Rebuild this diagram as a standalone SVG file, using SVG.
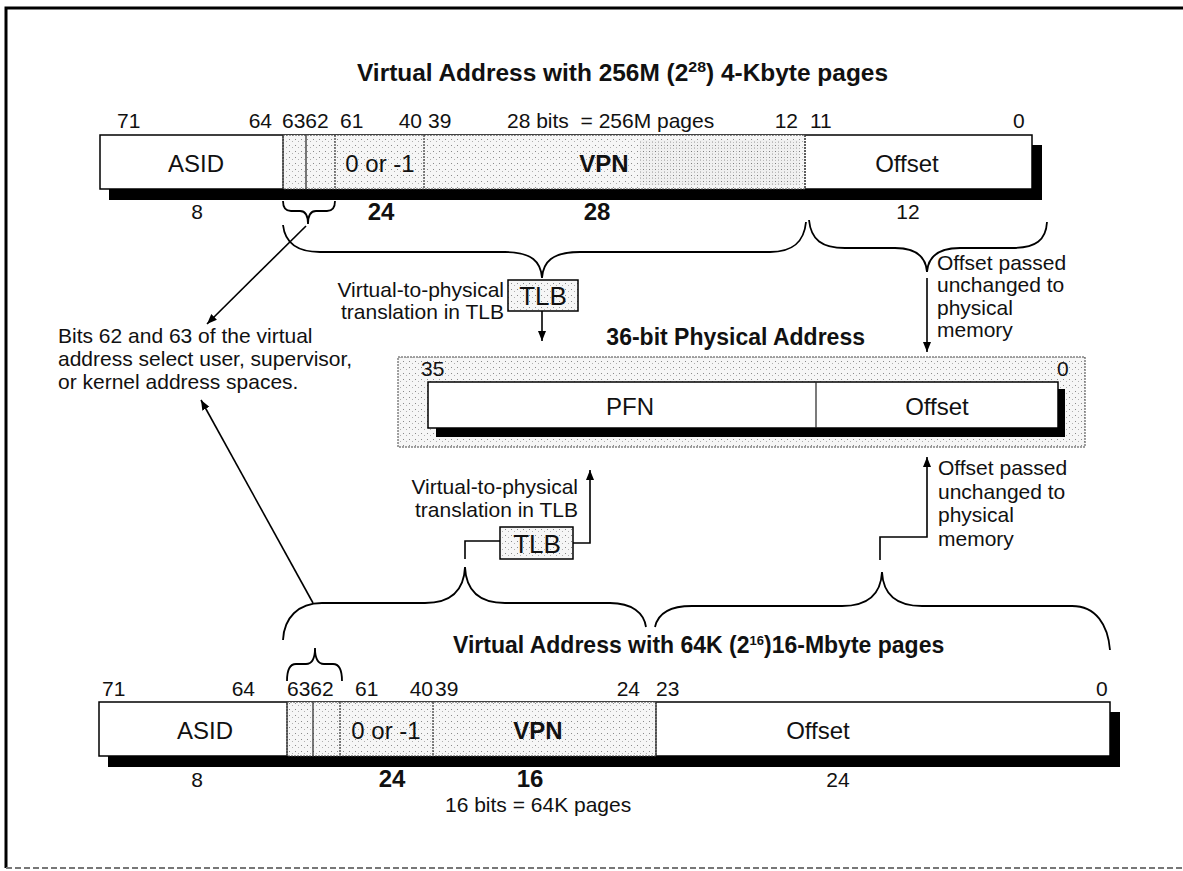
<svg xmlns="http://www.w3.org/2000/svg" width="1183" height="871" viewBox="0 0 1183 871">
<defs>
<pattern id="dots" width="6" height="6" patternUnits="userSpaceOnUse"><rect width="6" height="6" fill="#f6f6f6"/><rect x="1" y="1" width="1" height="1" fill="#8a8a8a"/><rect x="4" y="3" width="1" height="1" fill="#b0b0b0"/></pattern>
<pattern id="dots2" width="3" height="3" patternUnits="userSpaceOnUse"><rect width="3" height="3" fill="#e6e6e6"/><rect x="1" y="1" width="1" height="1" fill="#666"/></pattern>
<marker id="ah" viewBox="0 0 10 10" refX="10" refY="5" markerWidth="10" markerHeight="10" markerUnits="userSpaceOnUse" orient="auto"><path d="M0,1 L10,5 L0,9 Z" fill="#000"/></marker>
</defs>
<style>
text{font-family:"Liberation Sans",Arial,sans-serif;fill:#111}
.lb{font-size:21px}
.fd{font-size:24px}
.bd{font-weight:bold}
.tt{font-size:23px;font-weight:bold}
.bx{fill:#fff;stroke:#000;stroke-width:1.5}
.sh{fill:#000}
.st{fill:url(#dots);stroke:#444;stroke-width:1;stroke-dasharray:2 1}
.dv{stroke:#222;stroke-width:1.2;fill:none}
.dd{stroke:#333;stroke-width:1.2;stroke-dasharray:2 1;fill:none}
.br{fill:none;stroke:#000;stroke-width:1.8}
.ln{fill:none;stroke:#000;stroke-width:1.6}
</style>
<rect width="1183" height="871" fill="#fff"/>
<g id="frame">
<path d="M6,868 V8 H1183" fill="none" stroke="#000" stroke-width="3"/>
<line x1="6" y1="868" x2="1183" y2="868" stroke="#777" stroke-width="2" stroke-dasharray="6 3"/>
</g>

<g id="va-top">
<text class="tt" x="357" y="81" textLength="531" lengthAdjust="spacingAndGlyphs">Virtual Address with 256M (2<tspan font-size="15" dy="-9">28</tspan><tspan dy="9">) 4-Kbyte pages</tspan></text>
<text class="lb" x="117" y="128">71</text>
<text class="lb" x="272" y="128" text-anchor="end">64</text>
<text class="lb" x="282" y="128">6362</text>
<text class="lb" x="340" y="128">61</text>
<text class="lb" x="422" y="128" text-anchor="end">40</text>
<text class="lb" x="428" y="128">39</text>
<text class="lb" x="507" y="128" xml:space="preserve">28 bits  = 256M pages</text>
<text class="lb" x="798" y="128" text-anchor="end">12</text>
<text class="lb" x="810" y="128">11</text>
<text class="lb" x="1013" y="128">0</text>
<rect class="sh" x="109" y="145" width="933" height="55"/>
<rect class="bx" x="100" y="135" width="932" height="54"/>
<rect class="st" x="283" y="135" width="522" height="54"/>
<rect x="640" y="140" width="160" height="45" fill="url(#dots2)" opacity="0.4"/>
<line class="dv" x1="283" y1="135" x2="283" y2="189"/>
<line class="dv" x1="306" y1="135" x2="306" y2="189"/>
<line class="dd" x1="335" y1="135" x2="335" y2="189"/>
<line class="dd" x1="424" y1="135" x2="424" y2="189"/>
<line class="dd" x1="805" y1="135" x2="805" y2="189"/>
<text class="fd" x="196" y="172" text-anchor="middle" font-size="25">ASID</text>
<text class="fd" x="380" y="172" text-anchor="middle">0 or -1</text>
<text class="fd bd" x="604" y="172" text-anchor="middle" font-size="22">VPN</text>
<text class="fd" x="907" y="172" text-anchor="middle">Offset</text>
<text class="lb" x="197" y="219" text-anchor="middle" font-size="20">8</text>
<text class="bd" x="381" y="220" text-anchor="middle" font-size="24">24</text>
<text class="bd" x="597" y="220" text-anchor="middle" font-size="24">28</text>
<text class="lb" x="908" y="219" text-anchor="middle" font-size="20">12</text>
</g>

<g id="note-bits">
<text class="lb" x="58" y="343">Bits 62 and 63 of the virtual</text>
<text class="lb" x="58" y="366">address select user, supervisor,</text>
<text class="lb" x="58" y="389">or kernel address spaces.</text>
</g>

<g id="tlb-top">
<text class="lb" x="504" y="297" text-anchor="end">Virtual-to-physical</text>
<text class="lb" x="504" y="319" text-anchor="end">translation in TLB</text>
<rect x="508" y="280" width="70" height="31" fill="url(#dots)" stroke="#000" stroke-width="1.5"/>
<text x="543" y="305" text-anchor="middle" font-size="26">TLB</text>
</g>

<g id="offset-note-top">
<text class="lb" x="937" y="270">Offset passed</text>
<text class="lb" x="937" y="292">unchanged to</text>
<text class="lb" x="937" y="315">physical</text>
<text class="lb" x="937" y="337">memory</text>
</g>

<g id="pa">
<text class="tt" x="865" y="345" text-anchor="end" font-size="21">36-bit Physical Address</text>
<rect class="st" x="398" y="357" width="687" height="90"/>
<text class="lb" x="421" y="376">35</text>
<text class="lb" x="1057" y="376">0</text>
<rect class="sh" x="436" y="389" width="629" height="48"/>
<rect class="bx" x="428" y="382" width="630" height="46"/>
<line class="dv" x1="816" y1="382" x2="816" y2="428"/>
<text class="fd" x="630" y="415" text-anchor="middle">PFN</text>
<text class="fd" x="937" y="415" text-anchor="middle">Offset</text>
</g>

<g id="tlb-bottom">
<text class="lb" x="578" y="494" text-anchor="end">Virtual-to-physical</text>
<text class="lb" x="578" y="517" text-anchor="end">translation in TLB</text>
<rect x="500" y="527" width="73" height="32" fill="url(#dots)" stroke="#000" stroke-width="1.5"/>
<text x="537" y="553" text-anchor="middle" font-size="26">TLB</text>
</g>

<g id="offset-note-bottom">
<text class="lb" x="938" y="475">Offset passed</text>
<text class="lb" x="938" y="499">unchanged to</text>
<text class="lb" x="938" y="522">physical</text>
<text class="lb" x="938" y="546">memory</text>
</g>

<g id="va-bottom">
<text class="tt" x="453" y="653" font-size="19.3">Virtual Address with 64K (2<tspan font-size="13" dy="-8">16</tspan><tspan dy="8">)16-Mbyte pages</tspan></text>
<text class="lb" x="102" y="696">71</text>
<text class="lb" x="255" y="696" text-anchor="end">64</text>
<text class="lb" x="287" y="696">6362</text>
<text class="lb" x="355" y="696">61</text>
<text class="lb" x="433" y="696" text-anchor="end">40</text>
<text class="lb" x="435" y="696">39</text>
<text class="lb" x="640" y="696" text-anchor="end">24</text>
<text class="lb" x="656" y="696">23</text>
<text class="lb" x="1096" y="696">0</text>
<rect class="sh" x="108" y="712" width="1012" height="55"/>
<rect class="bx" x="99" y="702" width="1011" height="54"/>
<rect class="st" x="287" y="702" width="369" height="54"/>
<line class="dv" x1="287" y1="702" x2="287" y2="756"/>
<line class="dv" x1="313" y1="702" x2="313" y2="756"/>
<line class="dd" x1="340" y1="702" x2="340" y2="756"/>
<line class="dd" x1="433" y1="702" x2="433" y2="756"/>
<line class="dv" x1="656" y1="702" x2="656" y2="756"/>
<text class="fd" x="205" y="739" text-anchor="middle" font-size="25">ASID</text>
<text class="fd" x="386" y="739" text-anchor="middle">0 or -1</text>
<text class="fd bd" x="538" y="739" text-anchor="middle" font-size="22">VPN</text>
<text class="fd" x="818" y="739" text-anchor="middle">Offset</text>
<text class="lb" x="197" y="787" text-anchor="middle" font-size="20">8</text>
<text class="bd" x="392" y="787" text-anchor="middle" font-size="24">24</text>
<text class="bd" x="530" y="787" text-anchor="middle" font-size="24">16</text>
<text class="lb" x="838" y="787" text-anchor="middle" font-size="20">24</text>
<text class="lb" x="445" y="812">16 bits = 64K pages</text>
</g>

<g id="connectors">
<path class="br" d="M283,201 Q283,211 291,211 L300,211 Q308,211 308,224 Q308,211 316,211 L327,211 Q335,211 335,201"/>
<path class="br" d="M283,225 C285,243 298,252 320,252 L505,252 C532,252 541,262 542,278 C543,262 552,252 580,252 L770,252 C792,252 804,243 806,222"/>
<path class="br" d="M809,220 C811,240 822,248 845,248 L895,248 C918,248 926,258 927,272 C928,258 936,248 960,248 L1012,248 C1036,248 1046,240 1047,222"/>
<path class="br" d="M283,640 C284,618 298,603 322,603 L425,603 C452,603 464,590 465,567 C466,590 478,603 505,603 L610,603 C632,603 644,613 646,627"/>
<path class="br" d="M655,627 C658,613 670,606 692,606 L842,606 C870,606 881,592 882,572 C883,592 894,606 922,606 L1072,606 C1096,606 1108,625 1110,650"/>
<path class="br" d="M287,681 Q287,664 296,664 L306,664 Q315,664 315,648 Q315,664 324,664 L333,664 Q342,664 342,681"/>
<line class="ln" x1="306" y1="226" x2="207" y2="324" marker-end="url(#ah)"/>
<line class="ln" x1="313" y1="603" x2="201" y2="400" marker-end="url(#ah)"/>
<line class="ln" x1="542" y1="311" x2="542" y2="341" marker-end="url(#ah)"/>
<line class="ln" x1="927" y1="278" x2="927" y2="352" marker-end="url(#ah)"/>
<path class="ln" d="M500,541 H465 V559"/>
<path class="ln" d="M573,543 H590 V470" marker-end="url(#ah)"/>
<path class="ln" d="M880,560 V537 H927 V457" marker-end="url(#ah)"/>
</g>
</svg>
